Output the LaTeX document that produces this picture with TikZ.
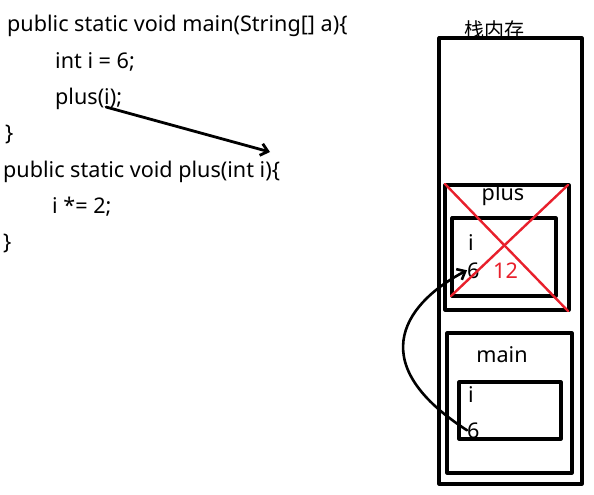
\documentclass[tikz,border=0pt]{standalone}
\usepackage{fontspec}
\setmainfont{Noto Sans}
\newfontfamily\cjk{Noto Sans CJK SC}
\usetikzlibrary{arrows.meta}
\definecolor{crossred}{RGB}{232,32,44}

\begin{document}
\begin{tikzpicture}[
    x=1pt,
    y=-1pt,
    line join=round,
    line cap=round,
    >={Straight Barb[length=7pt,width=12pt]},
    code/.style={anchor=base west, inner sep=0pt, font=\fontsize{21.6}{24}\selectfont},
    frame/.style={draw, line width=3.2pt},
    cross/.style={draw=crossred, line width=2.4pt}
]
    \useasboundingbox (0,0) rectangle (594,495);

    % 代码
    \node[code] (l1) at (7,32)  {public static void main(String[] a)\{};
    \node[code] (l2) at (55,68) {int i = 6;};
    \node[code] (l3) at (55,104) {plus(i);};
    \node[code] (l4) at (5,140) {\}};
    \node[code] (l5) at (3,177) {public static void plus(int i)\{};
    \node[code] (l6) at (52,213) {i *= 2;};
    \node[code] (l7) at (3,249) {\}};

    % 调用 plus(i)
    \coordinate (argI) at (106,107);
    \coordinate (paramI) at (270,152);
    \draw[->, line width=2.8pt] (argI) -- (paramI);

    % 栈内存
    \draw[frame] (439,38) rectangle (582,484);
    \node[font=\cjk\fontsize{20}{22}\selectfont, inner sep=0pt] (stack) at (494,30) {栈内存};

    % plus 的栈帧
    \draw[frame] (445,185) rectangle (569,310);
    \node[code, anchor=center] (plusname) at (503,195) {plus};
    \draw[frame] (452,218) rectangle (556,296);
    \node[code] (plusi) at (468,250) {i};
    \node[code] (plusv) at (467,278) {6};
    \node[code, text=crossred] (plusnew) at (493,278) {12};

    % main 的栈帧
    \draw[frame] (447,333) rectangle (572,473);
    \node[code, anchor=center] (mainname) at (502,355) {main};
    \draw[frame] (459,382) rectangle (561,439);
    \node[code] (maini) at (468,402) {i};
    \node[code] (mainv) at (467,438) {6};

    % 划掉 plus
    \draw[cross] (445,184) -- (568,311);
    \draw[cross] (568,185) -- (451,296);

    % 值传递
    \draw[->, line width=2.6pt] (mainv.west) .. controls (358,360) and (410,300) .. (plusv.west);

\end{tikzpicture}
\end{document}
